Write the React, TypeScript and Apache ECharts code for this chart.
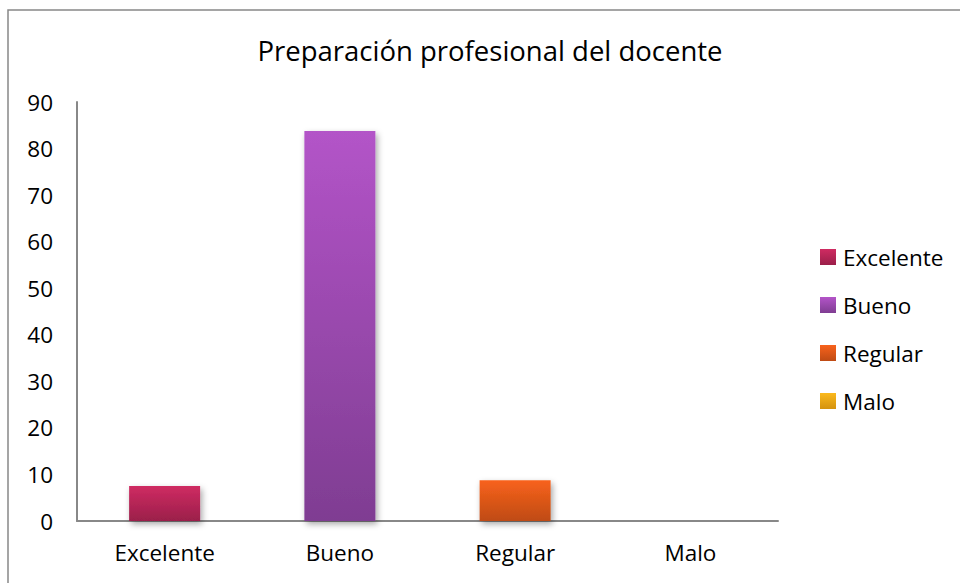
import React, { useEffect, useRef } from "react";
import * as echarts from "echarts";

const categories = ["Excelente", "Bueno", "Regular", "Malo"];
const values = [7.5, 83.75, 8.75, 0];
const seriesNames = ["Excelente", "Bueno", "Regular", "Malo"];
const gradients: [string, string][] = [
  ["#cf2b62", "#9b1f4a"],
  ["#b354c8", "#7f3d92"],
  ["#f8621c", "#bf4b14"],
  ["#fbb91d", "#d4930e"],
];

export default function App() {
  const ref = useRef<HTMLDivElement>(null);
  useEffect(() => {
    if (!ref.current) return;
    const chart = echarts.init(ref.current, undefined, { renderer: "svg" });
    const font = "'Open Sans', 'Noto Sans', sans-serif";
    chart.setOption({
      animation: false,
      backgroundColor: "#ffffff",
      title: {
        text: "Preparación profesional del docente",
        left: 485,
        top: 31,
        textAlign: "center",
        textStyle: { fontFamily: font, fontSize: 27.5, fontWeight: "normal", color: "#000" },
      },
      graphic: [
        {
          type: "rect",
          shape: { x: 8, y: 10, width: 1200, height: 1200 },
          style: { fill: "none", stroke: "#888888", lineWidth: 1.5 },
          silent: true,
        },
      ],
      legend: {
        orient: "vertical",
        left: 815,
        top: 240,
        itemWidth: 16,
        itemHeight: 16,
        itemGap: 24,
        icon: "rect",
        textStyle: {
          fontFamily: font,
          fontSize: 22.5,
          lineHeight: 24,
          color: "#000",
          padding: [0, 0, 0, 2],
        },
        data: seriesNames,
      },
      grid: { left: 77, right: 182, top: 102, bottom: 62 },
      xAxis: {
        type: "category",
        data: categories,
        axisLine: { lineStyle: { color: "#888888", width: 2 } },
        axisTick: { show: false },
        axisLabel: { fontFamily: font, fontSize: 22.5, color: "#000", margin: 20 },
      },
      yAxis: {
        type: "value",
        min: 0,
        max: 90,
        interval: 10,
        axisLine: { show: true, lineStyle: { color: "#888888", width: 2 } },
        axisTick: { show: false },
        splitLine: { show: false },
        axisLabel: { fontFamily: font, fontSize: 22.5, color: "#000", margin: 24 },
      },
      series: seriesNames.map((name, i) => ({
        name,
        type: "bar",
        stack: "total",
        barWidth: 71,
        data: categories.map((_, j) => (j === i ? values[j] : "-")),
        itemStyle: {
          color: new echarts.graphic.LinearGradient(0, 0, 0, 1, [
            { offset: 0, color: gradients[i][0] },
            { offset: 1, color: gradients[i][1] },
          ]),
          shadowBlur: 6,
          shadowColor: "rgba(0,0,0,0.35)",
          shadowOffsetX: 2,
          shadowOffsetY: 3,
        },
      })),
    });
    return () => chart.dispose();
  }, []);
  return (
    <div
      ref={ref}
      style={{ position: "fixed", left: 0, top: 0, width: 960, height: 583 }}
    />
  );
}
